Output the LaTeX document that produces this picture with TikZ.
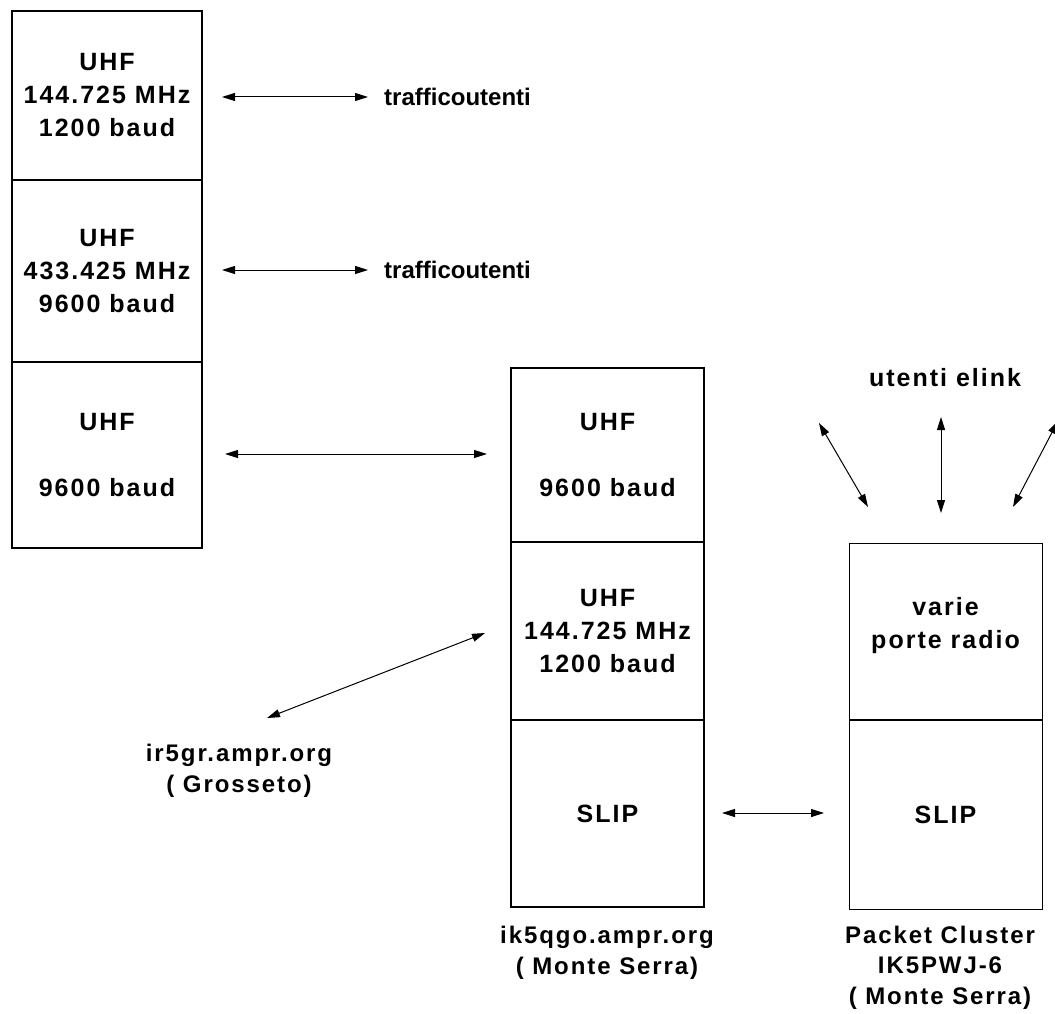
\documentclass[tikz,border=0pt]{standalone}
\usepackage{fontspec}
\setmainfont{Liberation Sans}[LetterSpace=8]
\usetikzlibrary{arrows.meta}
\begin{document}
\begin{tikzpicture}[x=1pt,y=-1pt,
  txt/.style={font=\fontsize{25}{33}\selectfont\bfseries, align=center, inner sep=0pt},
  lbl/.style={font=\fontsize{24}{30.5}\selectfont\bfseries, align=center, inner sep=0pt},
  tight/.style={font=\fontsize{24}{30}\selectfont\bfseries\addfontfeatures{LetterSpace=0}, inner sep=0pt},
  cell/.style={draw, line width=2pt, txt, inner sep=0pt, outer sep=0pt},
  thincell/.style={draw, line width=1pt, txt, inner sep=0pt, outer sep=0pt},
  link/.style={{Triangle[length=13pt,width=8pt]}-{Triangle[length=13pt,width=8pt]}, line width=1pt}]
\useasboundingbox (0,0) rectangle (1055,1014);
\fill[white] (0,0) rectangle (1055,1014);

% left stack
\node[cell, minimum width=190pt, minimum height=169pt] (L1) at (107,95.5) {UHF\\144.725 MHz\\1200 baud};
\node[cell, minimum width=190pt, minimum height=182pt] (L2) at (107,271) {UHF\\433.425 MHz\\9600 baud};
\node[cell, minimum width=190pt, minimum height=186pt] (L3) at (107,455) {UHF\\[33pt]9600 baud};

% middle stack
\node[cell, minimum width=193pt, minimum height=174pt] (M1) at (607.5,455) {UHF\\[33pt]9600 baud};
\node[cell, minimum width=193pt, minimum height=178pt] (M2) at (607.5,631) {UHF\\144.725 MHz\\1200 baud};
\node[cell, minimum width=193pt, minimum height=187pt] (M3) at (607.5,813.5) {SLIP};

% right stack
\node[thincell, minimum width=193pt, minimum height=177pt] (R1) at (945.5,631.5) {};
\node[txt] (R1t) at (945.5,626) {varie\\porte radio};
\node[thincell, minimum width=193pt, minimum height=189pt] (R2) at (945.5,814.5) {SLIP};
\draw[line width=2pt] (R1.south west) -- (R1.south east);

% labels
\node[tight, anchor=west] (t1) at (384,97) {trafficoutenti};
\node[tight, anchor=west] (t2) at (384,270) {trafficoutenti};
\node[lbl] (gr) at (239,771) {ir5gr.ampr.org\\( Grosseto)};
\node[lbl] (ms) at (607,953) {ik5qgo.ampr.org\\( Monte Serra)};
\node[lbl] (pc) at (940,967.5) {Packet Cluster\\IK5PWJ-6\\( Monte Serra)};
\node[txt] (ue) at (945,378) {utenti elink};

% arrow end points
\coordinate (a1s) at (222,97);   \coordinate (a1e) at (368,97);
\coordinate (a2s) at (222,270);  \coordinate (a2e) at (368,270);
\coordinate (a3s) at (225,454);  \coordinate (a3e) at (487,454);
\coordinate (a4s) at (267,718);  \coordinate (a4e) at (485,633);
\coordinate (a5s) at (722,813);  \coordinate (a5e) at (824,813);
\coordinate (a6s) at (819,423);  \coordinate (a6e) at (868,507);
\coordinate (a7s) at (941,417);  \coordinate (a7e) at (941,513);
\coordinate (a8s) at (1058,421); \coordinate (a8e) at (1013,507);

\draw[link] (a1s) -- (a1e);
\draw[link] (a2s) -- (a2e);
\draw[link] (a3s) -- (a3e);
\draw[link] (a4s) -- (a4e);
\draw[link] (a5s) -- (a5e);
\draw[link] (a6s) -- (a6e);
\draw[link] (a7s) -- (a7e);
\draw[link] (a8s) -- (a8e);
\end{tikzpicture}
\end{document}
